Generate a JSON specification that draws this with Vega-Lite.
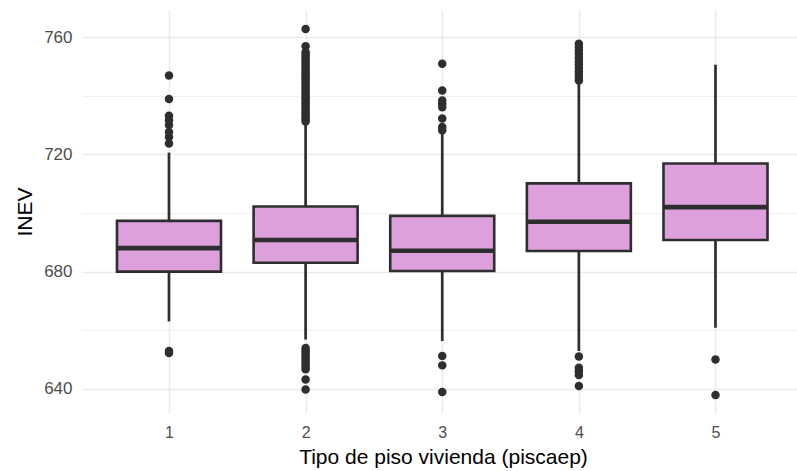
{
  "$schema": "https://vega.github.io/schema/vega-lite/v6.json",
  "width": 715,
  "height": 403,
  "autosize": {"type": "none"},
  "padding": {"left": 82, "top": 10, "right": 0, "bottom": 58},
  "background": "white",
  "config": {
    "view": {"stroke": null},
    "font": "Liberation Sans"
  },
  "datasets": {
    "boxes": [
      {"piso": 1, "lower": 663.0, "q1": 680.0, "median": 688.0, "q3": 697.3, "upper": 720.6},
      {"piso": 2, "lower": 656.8, "q1": 683.0, "median": 690.8, "q3": 702.2, "upper": 730.0},
      {"piso": 3, "lower": 656.3, "q1": 680.2, "median": 687.1, "q3": 699.0, "upper": 727.0},
      {"piso": 4, "lower": 652.9, "q1": 687.0, "median": 697.0, "q3": 710.1, "upper": 744.0},
      {"piso": 5, "lower": 660.8, "q1": 690.8, "median": 702.0, "q3": 716.9, "upper": 750.6}
    ],
    "outliers": [
      {"piso": 1, "INEV": 746.9}, {"piso": 1, "INEV": 738.9}, {"piso": 1, "INEV": 733.2},
      {"piso": 1, "INEV": 731.6}, {"piso": 1, "INEV": 730.0}, {"piso": 1, "INEV": 727.6},
      {"piso": 1, "INEV": 725.9}, {"piso": 1, "INEV": 723.7}, {"piso": 1, "INEV": 652.9},
      {"piso": 1, "INEV": 652.2},
      {"piso": 2, "INEV": 762.8}, {"piso": 2, "INEV": 756.9}, {"piso": 2, "INEV": 754.8},
      {"piso": 2, "INEV": 754.0}, {"piso": 2, "INEV": 753.1}, {"piso": 2, "INEV": 752.3},
      {"piso": 2, "INEV": 751.4}, {"piso": 2, "INEV": 750.6}, {"piso": 2, "INEV": 749.7},
      {"piso": 2, "INEV": 748.9}, {"piso": 2, "INEV": 748.0}, {"piso": 2, "INEV": 747.2},
      {"piso": 2, "INEV": 746.3}, {"piso": 2, "INEV": 745.5}, {"piso": 2, "INEV": 744.6},
      {"piso": 2, "INEV": 743.8}, {"piso": 2, "INEV": 742.9}, {"piso": 2, "INEV": 742.1},
      {"piso": 2, "INEV": 741.2}, {"piso": 2, "INEV": 740.4}, {"piso": 2, "INEV": 739.5},
      {"piso": 2, "INEV": 738.7}, {"piso": 2, "INEV": 737.8}, {"piso": 2, "INEV": 737.0},
      {"piso": 2, "INEV": 736.1}, {"piso": 2, "INEV": 735.3}, {"piso": 2, "INEV": 734.4},
      {"piso": 2, "INEV": 733.6}, {"piso": 2, "INEV": 732.7}, {"piso": 2, "INEV": 731.9},
      {"piso": 2, "INEV": 731.2}, {"piso": 2, "INEV": 653.9}, {"piso": 2, "INEV": 653.0},
      {"piso": 2, "INEV": 652.1}, {"piso": 2, "INEV": 651.2}, {"piso": 2, "INEV": 650.3},
      {"piso": 2, "INEV": 649.4}, {"piso": 2, "INEV": 648.5}, {"piso": 2, "INEV": 647.6},
      {"piso": 2, "INEV": 646.7}, {"piso": 2, "INEV": 643.2}, {"piso": 2, "INEV": 639.8},
      {"piso": 3, "INEV": 750.9}, {"piso": 3, "INEV": 741.8}, {"piso": 3, "INEV": 738.4},
      {"piso": 3, "INEV": 737.3}, {"piso": 3, "INEV": 736.1}, {"piso": 3, "INEV": 732.2},
      {"piso": 3, "INEV": 729.3}, {"piso": 3, "INEV": 728.2}, {"piso": 3, "INEV": 651.2},
      {"piso": 3, "INEV": 648.0}, {"piso": 3, "INEV": 638.9},
      {"piso": 4, "INEV": 757.7}, {"piso": 4, "INEV": 756.6}, {"piso": 4, "INEV": 755.4},
      {"piso": 4, "INEV": 754.2}, {"piso": 4, "INEV": 753.0}, {"piso": 4, "INEV": 751.8},
      {"piso": 4, "INEV": 750.7}, {"piso": 4, "INEV": 749.5}, {"piso": 4, "INEV": 748.3},
      {"piso": 4, "INEV": 747.2}, {"piso": 4, "INEV": 746.1}, {"piso": 4, "INEV": 745.2},
      {"piso": 4, "INEV": 651.0}, {"piso": 4, "INEV": 647.2}, {"piso": 4, "INEV": 646.0},
      {"piso": 4, "INEV": 644.7}, {"piso": 4, "INEV": 641.0},
      {"piso": 5, "INEV": 650.0}, {"piso": 5, "INEV": 637.9}
    ]
  },
  "layer": [
    {
      "data": {"name": "boxes"},
      "mark": {"type": "rule", "color": "#2E2E2E", "strokeWidth": 2.7},
      "encoding": {
        "x": {
          "field": "piso",
          "type": "quantitative",
          "title": "Tipo de piso vivienda (piscaep)",
          "scale": {"domain": [0.4, 5.56], "nice": false, "zero": false},
          "axis": {
            "values": [1, 2, 3, 4, 5],
            "format": "d",
            "domain": false,
            "ticks": false,
            "grid": true,
            "gridColor": "#EBEBEB",
            "gridWidth": 1.6,
            "labelFont": "Liberation Sans",
            "labelFontSize": 16,
            "labelColor": "#4D4D4D",
            "labelPadding": 11,
            "labelFlush": false,
            "labelOverlap": false,
            "titleFont": "Liberation Sans",
            "titleFontSize": 21,
            "titleFontWeight": "normal",
            "titleColor": "#000000",
            "titleX": 361,
            "titleY": 44,
            "titleAlign": "center",
            "titleBaseline": "middle"
          }
        },
        "y": {
          "field": "lower",
          "type": "quantitative",
          "title": "INEV",
          "scale": {"domain": [631.75, 769.25], "nice": false, "zero": false},
          "axis": {
            "values": [640, 660, 680, 700, 720, 740, 760],
            "labelExpr": "datum.value % 40 === 0 ? datum.label : ''",
            "domain": false,
            "ticks": false,
            "grid": true,
            "gridColor": "#EBEBEB",
            "gridWidth": {"condition": {"test": "datum.value % 40 === 0", "value": 1.6}, "value": 0.8},
            "labelFont": "Liberation Sans",
            "labelFontSize": 17,
            "labelColor": "#4D4D4D",
            "labelPadding": 10,
            "labelFlush": false,
            "labelOverlap": false,
            "titleFont": "Liberation Sans",
            "titleFontSize": 21,
            "titleFontWeight": "normal",
            "titleColor": "#000000",
            "titleAngle": 270,
            "titleX": -57,
            "titleY": 201.5,
            "titleAlign": "center",
            "titleBaseline": "middle"
          }
        },
        "y2": {"field": "upper"}
      }
    },
    {
      "data": {"name": "boxes"},
      "mark": {"type": "bar", "size": 104, "fill": "#DDA0DD", "stroke": "#2E2E2E", "strokeWidth": 2.6},
      "encoding": {
        "x": {"field": "piso", "type": "quantitative", "title": "Tipo de piso vivienda (piscaep)"},
        "y": {"field": "q1", "type": "quantitative", "title": "INEV"},
        "y2": {"field": "q3"}
      }
    },
    {
      "data": {"name": "boxes"},
      "mark": {"type": "tick", "orient": "horizontal", "size": 104, "thickness": 4.6, "color": "#2E2E2E", "opacity": 1},
      "encoding": {
        "x": {"field": "piso", "type": "quantitative", "title": "Tipo de piso vivienda (piscaep)"},
        "y": {"field": "median", "type": "quantitative", "title": "INEV"}
      }
    },
    {
      "data": {"name": "outliers"},
      "mark": {"type": "circle", "size": 72, "color": "#2E2E2E", "opacity": 1},
      "encoding": {
        "x": {"field": "piso", "type": "quantitative", "title": "Tipo de piso vivienda (piscaep)"},
        "y": {"field": "INEV", "type": "quantitative", "title": "INEV"}
      }
    }
  ]
}
